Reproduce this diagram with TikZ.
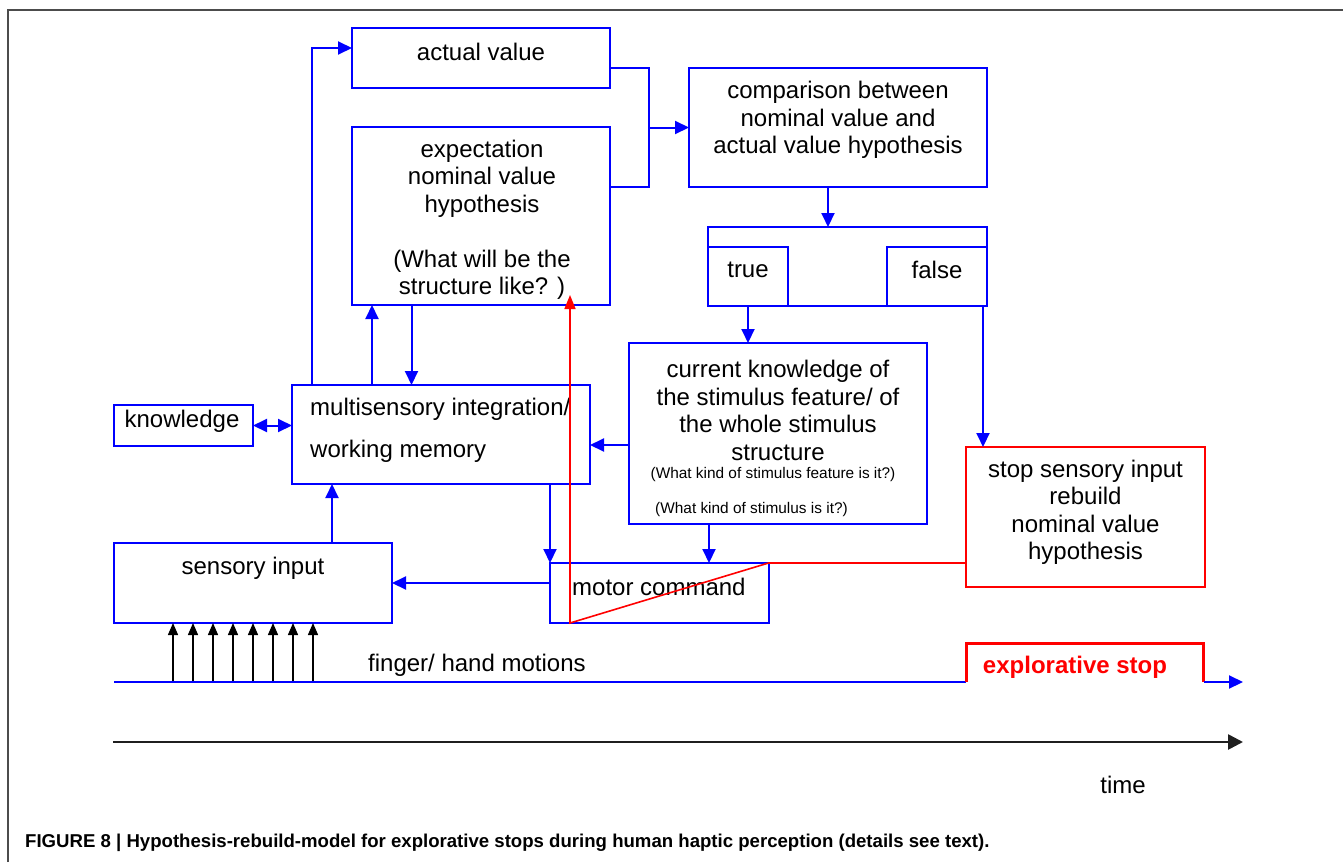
\documentclass[tikz,border=0pt]{standalone}
\usepackage{fontspec}
\setmainfont{Liberation Sans}
\usetikzlibrary{arrows.meta}
\begin{document}
\begin{tikzpicture}[
        x=1pt, y=-1pt,
        inner sep=0pt,
        font=\fontsize{24}{27.5}\selectfont,
        >={Triangle[length=14pt, width=13pt]},
        box/.style={draw=blue, line width=2pt, outer sep=0pt},
        stopbox/.style={draw=red, line width=2pt, outer sep=0pt},
        flow/.style={->, blue, line width=2pt},
        link/.style={blue, line width=2pt},
        rebuild/.style={-{Triangle[length=14pt, width=11pt]}, red, line width=1.6pt},
        motion/.style={-{Triangle[length=12pt, width=10pt]}, black, line width=1.4pt},
        timeaxis/.style={-{Triangle[length=15pt, width=15pt]}, black!88, line width=2.6pt},
        hint/.style={font=\fontsize{15.4}{18}\selectfont}
    ]
    \useasboundingbox (0,0) rectangle (1343,862);

    % Frame
    \draw[black!70, line width=1.5pt] (8,862) -- (8,10) -- (1343,10);

    % Boxes
    \node[box, minimum width=258pt, minimum height=60pt] (actual) at (481,58) {};
    \node[box, minimum width=258pt, minimum height=178pt] (expect) at (481,216) {};
    \node[box, minimum width=298pt, minimum height=119pt] (comp) at (838,127.5) {};
    \node[box, minimum width=279pt, minimum height=79pt] (decision) at (847.5,266.5) {};
    \node[box, minimum width=80pt, minimum height=59pt] (truebox) at (748,276.5) {};
    \node[box, minimum width=100pt, minimum height=59pt] (falsebox) at (937,276.5) {};
    \node[box, minimum width=298pt, minimum height=181pt] (current) at (778,433.5) {};
    \node[box, minimum width=139pt, minimum height=41pt] (knowledge) at (183.5,425.5) {};
    \node[box, minimum width=298pt, minimum height=99pt] (ms) at (441,434.5) {};
    \node[box, minimum width=278pt, minimum height=80pt] (sensory) at (253,583) {};
    \node[box, minimum width=218.5pt, minimum height=60pt] (motor) at (659.25,593) {};
    \node[stopbox, minimum width=239pt, minimum height=140pt] (stop) at (1085.5,517) {};

    % Texts
    \node (actual-t) at (481,52) {actual value};
    \node[align=center] (expect-t) at (482,220)
        {expectation\\nominal value\\hypothesis\\[27.5pt](What will be the\\structure like? )};
    \node[align=center] (comp-t) at (838,120)
        {comparison between\\nominal value and\\actual value hypothesis};
    \node (true-t) at (748,270) {true};
    \node (false-t) at (937,270) {false};
    \node[align=center] (current-t) at (778,410.5)
        {current knowledge of\\the stimulus feature/ of\\the whole stimulus\\structure};
    \node[hint] (feature-t) at (773,475) {(What kind of stimulus feature is it?)};
    \node[hint, anchor=west] (kind-t) at (655,510) {(What kind of stimulus is it?)};
    \node (knowledge-t) at (182,421) {knowledge};
    \node[align=left, anchor=west] (ms-t) at (310,430)
        {multisensory integration/\\[14.5pt]working memory};
    \node (sensory-t) at (253,568) {sensory input};
    \node[anchor=west] (motor-t) at (572,587) {motor command};
    \node[align=center] (stop-t) at (1085.5,512.5)
        {stop sensory input\\rebuild\\nominal value\\hypothesis};

    % Connections
    \draw[flow] (ms.north -| 312,0) |- (actual.west |- 0,48);
    \draw[link] (actual.east |- 0,68) -| (649,187) -- (expect.east |- 0,187);
    \coordinate (join) at (649,127.5);
    \draw[flow] (join) -- (comp.west);
    \draw[flow] (comp.south -| 828,0) -- (decision.north -| 828,0);
    \draw[flow] (truebox.south) -- (current.north -| truebox.south);
    \draw[flow] (falsebox.south -| 983,0) -- (stop.north -| 983,0);
    \draw[flow] (current.west |- 0,445) -- (ms.east |- 0,445);
    \draw[flow, <->] (knowledge.east) -- (ms.west |- knowledge.east);
    \draw[flow] (ms.north -| 372,0) -- (expect.south -| 372,0);
    \draw[flow] (expect.south -| 411.5,0) -- (ms.north -| 411.5,0);
    \draw[flow] (sensory.north -| 332,0) -- (ms.south -| 332,0);
    \draw[flow] (ms.south -| motor.north west) -- (motor.north west);
    \draw[flow] (current.south -| 709,0) -- (motor.north -| 709,0);
    \draw[flow] (motor.west |- sensory.east) -- (sensory.east);

    % Rebuild path
    \coordinate (tip) at (570,295);
    \draw[rebuild] (stop.west |- motor.north east) -- (motor.north east)
        -- (motor.south -| tip) -- (tip);

    % Finger/hand motions
    \foreach \x in {173,193,...,313}
        \draw[motion] (\x,682) -- (sensory.south -| \x,0);
    \coordinate (start) at (114,682);
    \coordinate (stopon) at (966,682);
    \coordinate (stopoff) at (1203.5,682);
    \coordinate (end) at (1243,682);
    \draw[link] (start) -- (stopon);
    \draw[red, line width=3pt] (stopon) -- ++(0,-39) -| (stopoff);
    \draw[flow] (stopoff) -- (end);
    \node[anchor=west] (fingers) at (368,665) {finger/ hand motions};
    \node[red, font=\fontsize{24}{27.5}\selectfont\bfseries] (expl) at (1075,667) {explorative stop};

    % Time
    \draw[timeaxis] (113,742) -- (1243,742);
    \node (time) at (1123,785) {time};

    % Caption
    \node[anchor=west, font=\fontsize{18.6}{22}\selectfont\bfseries] (caption) at (25,843)
        {FIGURE 8 | Hypothesis-rebuild-model for explorative stops during human haptic perception (details see text).};
\end{tikzpicture}
\end{document}
